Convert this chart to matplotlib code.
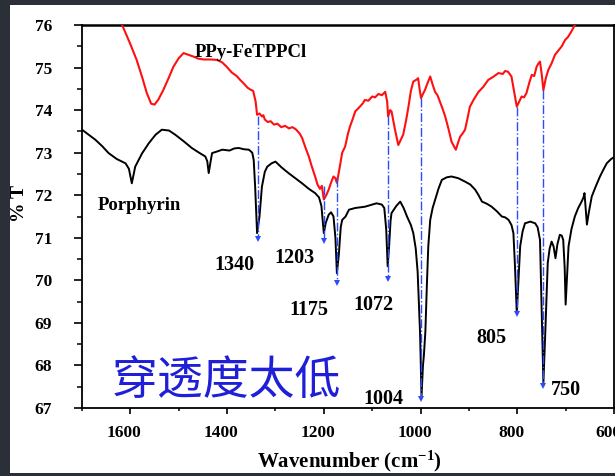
import matplotlib
matplotlib.use("Agg")
import matplotlib.pyplot as plt
from matplotlib.patches import Rectangle
from matplotlib.transforms import ScaledTranslation
from matplotlib.ticker import MultipleLocator

plt.rcParams['mathtext.fontset'] = 'custom'
plt.rcParams['mathtext.rm'] = 'Liberation Serif:bold'
plt.rcParams['mathtext.bf'] = 'Liberation Serif:bold'
plt.rcParams['mathtext.it'] = 'Liberation Serif:bold'

# ---------------- data ----------------
red_w = [1645, 1617, 1600, 1587, 1575, 1566, 1557, 1550, 1542, 1532, 1521, 1511, 1500, 1490,
         1480, 1470, 1460, 1449, 1435, 1421, 1410, 1401, 1390, 1380, 1373, 1365, 1358, 1353,
         1346, 1341, 1338, 1333, 1328, 1325, 1322, 1316, 1310, 1303, 1296, 1288, 1280, 1272,
         1265, 1258, 1250, 1245, 1238, 1231, 1225, 1218, 1213, 1208, 1204, 1200, 1195, 1190,
         1185, 1180, 1176, 1173, 1168, 1162, 1156, 1150, 1146, 1140, 1135, 1128, 1120, 1115,
         1108, 1100, 1094, 1087, 1080, 1073, 1069, 1067, 1063, 1060, 1053, 1046, 1041, 1036,
         1030, 1025, 1020, 1015, 1008, 1005, 1002, 999, 995, 991, 985, 980, 975, 970, 965,
         960, 955, 949, 942, 936, 931, 927, 922, 918, 913, 908, 903, 898, 890, 880, 870, 860,
         850, 839, 830, 825, 819, 812, 806, 801, 796, 791, 786, 781, 775, 770, 765, 760, 756,
         753, 749, 746, 741, 736, 729, 722, 715, 708, 701, 695, 688, 681, 660, 620]
red_t = [76.8, 76.0, 75.55, 75.18, 74.75, 74.40, 74.15, 74.13, 74.25, 74.47, 74.75, 75.02, 75.22, 75.34,
         75.30, 75.26, 75.21, 75.19, 75.19, 75.18, 75.12, 75.02, 74.88, 74.80, 74.71, 74.62, 74.53, 74.49,
         74.45, 74.20, 73.89, 73.92, 73.85, 73.88, 73.78, 73.72, 73.74, 73.66, 73.68, 73.60, 73.63, 73.57,
         73.60, 73.55, 73.45, 73.35, 73.12, 72.91, 72.68, 72.44, 72.25, 72.15, 72.22, 71.90, 72.00, 72.13,
         72.30, 72.44, 72.40, 72.29, 72.60, 73.00, 73.14, 73.45, 73.61, 73.80, 73.97, 74.05, 74.15, 74.24,
         74.22, 74.32, 74.30, 74.38, 74.35, 74.43, 74.20, 73.85, 74.00, 73.97, 73.55, 73.18, 73.30, 73.42,
         73.75, 74.08, 74.45, 74.67, 74.72, 74.75, 74.50, 74.28, 74.38, 74.47, 74.65, 74.79, 74.60, 74.43, 74.35,
         74.20, 74.05, 73.85, 73.55, 73.26, 73.15, 73.07, 73.25, 73.38, 73.45, 73.54, 73.80, 74.08, 74.25, 74.43, 74.55, 74.71,
         74.78, 74.87, 74.85, 74.92, 74.90, 74.79, 74.40, 74.08, 74.20, 74.32, 74.30, 74.40, 74.65, 74.83, 74.80, 75.02, 75.10,
         75.14, 74.80, 74.47, 74.75, 74.94, 75.10, 75.30, 75.40, 75.50, 75.65, 75.72, 75.85, 76.0, 76.4, 77.2]

black_w = [1700, 1686, 1672, 1658, 1645, 1628, 1610, 1603, 1597, 1593, 1590, 1576, 1562, 1548, 1535,
           1520, 1507, 1490, 1473, 1458, 1445, 1441, 1438, 1434, 1431, 1420, 1410, 1395, 1385, 1376,
           1365, 1355, 1348, 1345, 1342, 1338, 1333, 1328, 1322, 1317, 1308, 1300, 1287, 1273, 1259,
           1245, 1231, 1218, 1210, 1205, 1200, 1196, 1190, 1185, 1180, 1176, 1173, 1169, 1165, 1162,
           1155, 1148, 1135, 1115, 1100, 1091, 1080, 1075, 1071, 1068, 1065, 1062, 1060, 1050, 1042,
           1035, 1028, 1020, 1015, 1010, 1006, 1003, 1001, 998, 995, 993, 990, 987, 984, 980, 975,
           970, 963, 956, 946, 936, 922, 908, 897, 887, 880, 873, 863, 853, 842, 832, 825, 818, 812,
           808, 805, 801, 798, 794, 789, 784, 773, 763, 758, 753, 750, 746, 742, 737, 733, 729, 725,
           721, 717, 712, 708, 705, 702, 700, 697, 694, 688, 681, 674, 667, 663, 661, 658, 656, 652,
           646, 638, 629, 622, 615, 606, 598]
black_t = [73.54, 73.42, 73.30, 73.15, 72.99, 72.85, 72.75, 72.62, 72.28, 72.50, 72.67, 72.98, 73.22, 73.42, 73.54,
           73.52, 73.42, 73.27, 73.11, 73.00, 72.91, 72.80, 72.52, 72.80, 72.99, 73.03, 73.07, 73.05, 73.10, 73.11,
           73.08, 73.07, 73.00, 72.83, 72.20, 71.11, 71.50, 72.20, 72.55, 72.67, 72.75, 72.79, 72.65, 72.52, 72.40,
           72.28, 72.15, 72.05, 71.95, 71.75, 71.11, 71.35, 71.54, 71.60, 71.50, 71.00, 70.17, 70.60, 71.25, 71.42,
           71.50, 71.66, 71.70, 71.73, 71.78, 71.81, 71.78, 71.70, 71.20, 70.33, 70.80, 71.40, 71.58, 71.75, 71.85,
           71.70, 71.50, 71.30, 71.11, 70.75, 70.20, 69.30, 68.76, 67.27, 68.00, 68.25, 68.80, 69.86, 70.80, 71.42, 71.70,
           71.89, 72.15, 72.36, 72.42, 72.44, 72.40, 72.32, 72.25, 72.13, 72.00, 71.85, 71.80, 71.73, 71.62, 71.50, 71.48, 71.42, 71.30,
           71.11, 70.40, 69.23, 69.90, 70.80, 71.15, 71.34, 71.38, 71.34, 71.25, 70.95, 69.50, 67.59, 68.80, 70.41, 70.75, 70.91, 70.80,
           70.52, 70.85, 71.07, 71.05, 70.95, 70.30, 69.43, 70.10, 70.80, 71.20, 71.50, 71.70, 71.85, 71.95, 72.05, 71.60, 71.31, 71.60,
           71.97, 72.20, 72.44, 72.60, 72.75, 72.85, 72.91]

arrow_w = [1336, 1200, 1173, 1068, 999, 801, 746]
arrow_top = [73.85, 72.22, 72.40, 73.85, 74.28, 74.08, 74.47]
arrow_tip = [70.88, 70.84, 69.85, 69.94, 67.13, 69.12, 67.43]

peak_labels = ['1340', '1203', '1175', '1072', '1004', '805', '750']
peak_label_w = [1385, 1261, 1230, 1098, 1076, 853, 699]
peak_label_t = [70.37, 70.53, 69.31, 69.43, 67.20, 68.64, 67.43]

x_ticks = [1600, 1400, 1200, 1000, 800, 600]
y_ticks = [67, 68, 69, 70, 71, 72, 73, 74, 75, 76]

# ---------------- figure ----------------
W, H = 615, 476
fig = plt.figure(figsize=(W / 100, H / 100), dpi=100, facecolor='#2b3038')
fig.patches.append(Rectangle((10 / W, 3 / H), 1.0, (473 - 5) / H,
                             transform=fig.transFigure, facecolor='white',
                             edgecolor='none', zorder=-10))

ax = fig.add_axes([82 / W, (H - 408) / H, (614 - 82) / W, 383 / H])
ax.set_zorder(2)
ax.set_facecolor('none')

serif = 'Liberation Serif'

ax.plot(black_w, black_t, color='black', lw=1.4, zorder=3)
ax.plot(red_w, red_t, color='#ff1010', lw=1.5, zorder=3)

blue = '#2a4bff'
for w, t0, t1 in zip(arrow_w, arrow_top, arrow_tip):
    ax.plot([w, w], [t0, t1 + 0.08], color=blue, lw=1.0, ls='-.', zorder=4)
    ax.plot([w], [t1 + 0.09], marker='v', color=blue, ms=4.5, mew=0, zorder=5)

for lab, w, t in zip(peak_labels, peak_label_w, peak_label_t):
    ax.text(w, t, lab, fontsize=14.5, fontweight='bold', family=serif,
            ha='center', va='center', zorder=6)

ax.text(1351, 75.35, 'PPy-FeTPPCl', fontsize=13.5, fontweight='bold', family=serif,
        ha='center', va='center')
ax.text(1582, 71.75, 'Porphyrin', fontsize=13.5, fontweight='bold', family=serif,
        ha='center', va='center')

ax.text(1401, 67.64, '穿透度太低', fontsize=33, color='#1f1fd8', fontweight='light',
        family=['Noto Sans CJK SC', 'DejaVu Sans'], ha='center', va='center', zorder=6)

ax.set_xlim(1700, 600)
ax.set_ylim(67, 76)
ax.set_xticks(x_ticks)
ax.set_yticks(y_ticks)
ax.xaxis.set_minor_locator(MultipleLocator(100))
ax.yaxis.set_minor_locator(MultipleLocator(0.5))

for sp in ax.spines.values():
    sp.set_linewidth(1.3)
ax.spines['top'].set_linewidth(1.8)

ax.tick_params(axis='y', which='major', direction='out', length=6, width=1.2, pad=15.5,
               labelsize=12.5)
ax.tick_params(axis='y', which='minor', direction='out', length=3.5, width=1.1)
ax.tick_params(axis='x', which='major', direction='out', length=4.5, width=1.2, pad=8,
               labelsize=12.5)
ax.tick_params(axis='x', which='minor', direction='out', length=2.5, width=1.1)
for lab in ax.get_xticklabels() + ax.get_yticklabels():
    lab.set_fontfamily(serif)
    lab.set_fontweight('bold')
shift = ScaledTranslation(-0.06, 0, fig.dpi_scale_trans)
for lab in ax.get_xticklabels():
    lab.set_transform(lab.get_transform() + shift)

fig.text(20 / W, 1 - 204 / H, '% T', rotation=90, fontsize=14, fontweight='bold',
         family=serif, ha='center', va='center')
fig.text(349 / W, 1 - 461 / H, 'Wavenumber (cm$^{-1}$)', fontsize=15,
         fontweight='bold', family=serif, ha='center', va='center')

fig.savefig('out.png', dpi=100, facecolor=fig.get_facecolor())
